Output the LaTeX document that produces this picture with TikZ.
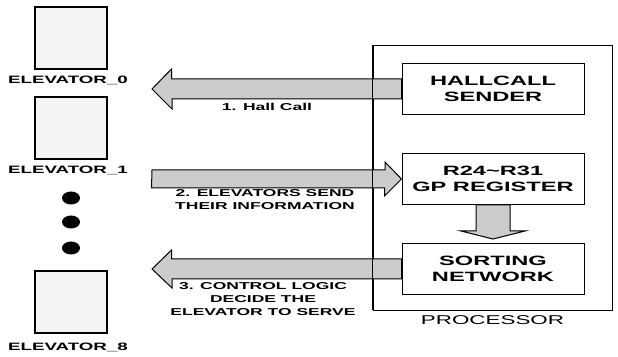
\documentclass[tikz,border=0pt]{standalone}
\usepackage{fontspec}
\setmainfont{Liberation Sans}
\newfontfamily\widefont[FakeStretch=1.75]{Liberation Sans}
\usetikzlibrary{positioning, shapes.geometric}

\begin{document}
\begin{tikzpicture}[
    x=1pt, y=1pt,
    node distance=38pt and 10pt,
    unit/.style={draw, line width=1pt, minimum width=182pt, minimum height=51pt,
                 align=center, inner sep=2pt,
                 font=\widefont\fontsize{13.5}{16}\selectfont\bfseries},
    elev/.style={draw, line width=1.1pt, fill=gray!9, minimum width=72pt,
                 minimum height=62pt, inner sep=0pt},
    elevname/.style={inner sep=0pt, font=\widefont\fontsize{10.7}{12}\selectfont\bfseries},
    dot/.style={ellipse, fill=black, minimum width=18pt, minimum height=13pt, inner sep=0pt},
    stepnote/.style={align=center, inner sep=0pt,
                 font=\widefont\fontsize{10}{13}\selectfont\bfseries},
    blockarr/.style={draw, line width=1pt, fill=gray!40, line join=miter}
]
\useasboundingbox (0,0) rectangle (618,356);

% processor and its units
\node[draw, line width=0.9pt, minimum width=239pt, minimum height=265pt] (proc) at (492.5,178.5) {};
\node[below=5pt of proc, inner sep=0pt, font=\widefont\fontsize{12.8}{16}\selectfont] (proclbl) {PROCESSOR};
\node[unit] (hall) at (493,267) {HALLCALL\\SENDER};
\node[unit, below=of hall] (gp)   {R24\textasciitilde R31\\GP REGISTER};
\node[unit, below=of gp]   (sort) {SORTING\\NETWORK};

% elevators
\node[elev] (e0) at (71,318) {};
\node[elevname, below=6pt of e0, xshift=-3pt] (e0lbl) {ELEVATOR\_0};
\node[elev] (e1) at (71,228) {};
\node[elevname, below=6pt of e1, xshift=-3pt] (e1lbl) {ELEVATOR\_1};
\node[dot] (d1) at (71,158) {};
\node[dot] (d2) at (71,134) {};
\node[dot] (d3) at (71,108) {};
\node[elev] (e8) at (71,54) {};
\node[elevname, below=9pt of e8, xshift=-3pt] (e8lbl) {ELEVATOR\_8};

% block arrows
\coordinate (lx) at (152,0);
\draw[blockarr] ([yshift=10pt]hall.west) -- ++(-230,0) -- ++(0,10) -- (lx |- hall.west)
    -- ++(20,-20) -- ++(0,10) -- ([yshift=-10pt]hall.west) -- cycle;
\draw[blockarr] (lx |- gp.west) ++(0,9) -- ++(233,0) -- ++(0,8) -- (gp.west)
    -- ++(-17,-17) -- ++(0,8) -- ++(-233,0) -- cycle;
\draw[blockarr] ([yshift=10pt]sort.west) -- ++(-230,0) -- ++(0,9) -- (lx |- sort.west)
    -- ++(20,-19) -- ++(0,9) -- ([yshift=-10pt]sort.west) -- cycle;
\draw[blockarr] ([xshift=-17pt]gp.south) -- ++(0,-26) -- ++(-15,0) -- ++(32,-8)
    -- ++(32,8) -- ++(-15,0) -- ([xshift=17pt]gp.south) -- cycle;
\draw[line width=0.9pt] (proc.north west) -- (proc.south west);

% step labels
\node[stepnote] (s1) at (267,249) {1. Hall Call};
\node[stepnote] (s2) at (265,156) {2. ELEVATORS SEND\\THEIR INFORMATION};
\node[stepnote] (s3) at (263,57)  {3. CONTROL LOGIC\\DECIDE THE\\ELEVATOR TO SERVE};
\end{tikzpicture}
\end{document}
